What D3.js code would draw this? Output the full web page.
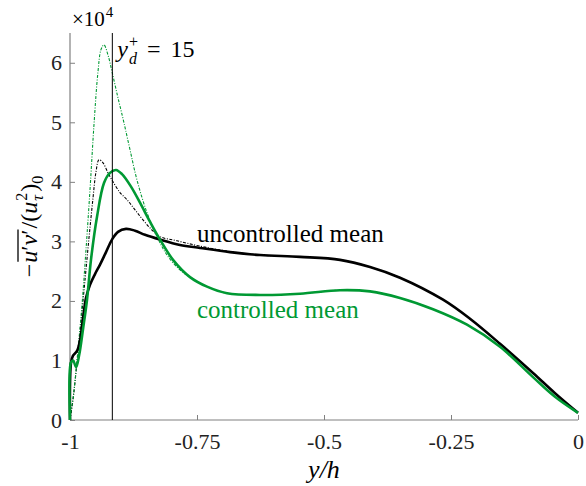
<!DOCTYPE html>
<html>
<head>
<meta charset="utf-8">
<script src="https://cdn.jsdelivr.net/npm/d3@7"></script>
<style>
  body { margin: 0; background: #fff; }
</style>
</head>
<body>
<div id="chart"></div>
<script>
// y/h positions and -u'v'/(u_tau^2)_0 values (x 1e4)
const uncMeanX = [-1, -0.998, -0.9941, -0.9862, -0.9803, -0.9744, -0.9685, -0.9606, -0.9508, -0.9409, -0.9291, -0.9173, -0.9055, -0.8898, -0.872, -0.8524, -0.8228, -0.7835, -0.7441, -0.685, -0.626, -0.5472, -0.4685, -0.4094, -0.3504, -0.2657, -0.2126, -0.1535, -0.0886, -0.0453, 0];
const uncMeanY = [0, 0.96, 1.08, 1.16, 1.34, 1.71, 2.05, 2.27, 2.45, 2.61, 2.82, 3.03, 3.16, 3.21, 3.18, 3.11, 3.03, 2.94, 2.89, 2.82, 2.77, 2.74, 2.69, 2.57, 2.39, 2.02, 1.70, 1.28, 0.79, 0.45, 0.12];

const ctrlMeanX = [-1, -0.998, -0.994, -0.988, -0.982, -0.974, -0.9665, -0.9587, -0.9469, -0.9331, -0.9213, -0.9094, -0.8976, -0.8799, -0.8622, -0.8425, -0.8228, -0.7972, -0.7638, -0.7303, -0.6909, -0.626, -0.5472, -0.4685, -0.4094, -0.3504, -0.2854, -0.2185, -0.1535, -0.0886, -0.0453, 0];
const ctrlMeanY = [0, 0.97, 1.0, 0.89, 1.09, 1.55, 2.02, 2.69, 3.41, 3.98, 4.15, 4.20, 4.13, 3.92, 3.65, 3.33, 3.03, 2.69, 2.40, 2.24, 2.13, 2.10, 2.12, 2.18, 2.16, 2.05, 1.86, 1.60, 1.23, 0.72, 0.39, 0.12];

// near-wall peak profiles (dash-dot)
const uncPeakX = [-1, -0.9941, -0.9862, -0.9783, -0.9705, -0.9626, -0.9547, -0.9488, -0.9429, -0.935, -0.9252, -0.9173, -0.9016, -0.8878, -0.872, -0.8563, -0.8386, -0.8228, -0.7894, -0.7441, -0.685, -0.626, -0.5472, -0.4685, -0.4094, -0.3504, -0.2657, -0.2126, -0.1535, -0.0886, -0.0453, 0];
const uncPeakY = [0, 0.34, 0.97, 1.65, 2.35, 3.06, 3.73, 4.17, 4.37, 4.32, 4.15, 4.03, 3.82, 3.70, 3.53, 3.36, 3.19, 3.08, 3.01, 2.92, 2.83, 2.77, 2.74, 2.69, 2.57, 2.39, 2.02, 1.70, 1.28, 0.79, 0.45, 0.12];

const ctrlPeakX = [-1, -0.9921, -0.9843, -0.9764, -0.9685, -0.9606, -0.9528, -0.9449, -0.939, -0.9331, -0.9252, -0.9173, -0.9055, -0.8937, -0.8819, -0.8681, -0.8484, -0.8287, -0.809, -0.7835, -0.7638, -0.7303, -0.6909, -0.626, -0.5472, -0.4685, -0.4094, -0.3504, -0.2854, -0.2185, -0.1535, -0.0886, -0.0453, 0];
const ctrlPeakY = [0, 0.50, 1.18, 1.93, 2.86, 3.87, 4.96, 5.85, 6.22, 6.30, 6.13, 5.85, 5.41, 4.99, 4.54, 4.03, 3.48, 3.08, 2.77, 2.52, 2.40, 2.24, 2.13, 2.10, 2.12, 2.18, 2.16, 2.05, 1.86, 1.60, 1.23, 0.72, 0.39, 0.12];

const xTicks = [-1, -0.75, -0.5, -0.25, 0];
const xTickLabels = ["-1", "-0.75", "-0.5", "-0.25", "0"];
const yTicks = [0, 1, 2, 3, 4, 5, 6];
const yPlus = 15, reTau = 180;

const green = "#009933";
const font = "'Liberation Serif', 'DejaVu Serif', serif";
const width = 586, height = 486;
const margin = {top: 33, right: 8, bottom: 66, left: 70};

const svg = d3.select("#chart").append("svg")
    .attr("width", width)
    .attr("height", height)
    .attr("font-family", font);

const x = d3.scaleLinear().domain([-1, 0]).range([margin.left, width - margin.right]);
const y = d3.scaleLinear().domain([0, 6.5]).range([height - margin.bottom, margin.top]);

// axes
const axisColor = "#808080";
const xAxis = svg.append("g")
    .attr("transform", `translate(0,${y(0)})`)
    .call(d3.axisBottom(x).tickValues(xTicks).tickSize(-5).tickPadding(13)
        .tickFormat((d, i) => xTickLabels[i]));
const yAxis = svg.append("g")
    .attr("transform", `translate(${x(-1)},0)`)
    .call(d3.axisLeft(y).tickValues(yTicks).tickSize(-5).tickPadding(8)
        .tickFormat(d3.format("d")));

[xAxis, yAxis].forEach(a => {
    a.attr("font-family", font).attr("font-size", 22);
    a.select(".domain").attr("stroke", axisColor).attr("stroke-width", 1.2);
    a.selectAll(".tick line").attr("stroke", axisColor);
    a.selectAll("text").attr("fill", "#222");
});
xAxis.select(".domain").attr("d", `M${x(-1)},0H${x(0)}`);
yAxis.select(".domain").attr("d", `M0,${y(0)}V${y(6.5)}`);

// curves
const line = d3.line()
    .x(d => x(d[0]))
    .y(d => y(d[1]))
    .curve(d3.curveCatmullRom.alpha(0.5));

function zip(a, b) { return a.map((v, i) => [v, b[i]]); }

svg.append("path").datum(zip(uncPeakX, uncPeakY))
    .attr("d", line).attr("fill", "none").attr("stroke", "black")
    .attr("stroke-width", 1.1).attr("stroke-dasharray", "3,1.5,1,1.5");
svg.append("path").datum(zip(ctrlPeakX, ctrlPeakY))
    .attr("d", line).attr("fill", "none").attr("stroke", green)
    .attr("stroke-width", 1.1).attr("stroke-dasharray", "3,1.5,1,1.5");
svg.append("path").datum(zip(uncMeanX, uncMeanY))
    .attr("d", line).attr("fill", "none").attr("stroke", "black")
    .attr("stroke-width", 2.6);
svg.append("path").datum(zip(ctrlMeanX, ctrlMeanY))
    .attr("d", line).attr("fill", "none").attr("stroke", green)
    .attr("stroke-width", 2.6);

// y_d^+ line
const yd = -1 + yPlus / reTau;
svg.append("line")
    .attr("x1", x(yd)).attr("x2", x(yd))
    .attr("y1", y(0)).attr("y2", y(6.5))
    .attr("stroke", "black").attr("stroke-width", 1);

// write a sequence of pieces left to right: [text, size, italic, dy, stackWithPrev, gapBefore]
function writeMath(g, pieces, x0, y0) {
    let cx = x0, lastX = x0;
    pieces.forEach(p => {
        const [str, size, italic, dy, stack, gap] = p;
        const px = stack ? lastX : cx + (gap || 0);
        const t = g.append("text")
            .attr("x", px).attr("y", y0 + dy)
            .attr("font-size", size)
            .attr("font-style", italic ? "italic" : "normal")
            .text(str);
        const w = t.node().getComputedTextLength();
        if (stack) {
            cx = Math.max(cx, px + w);
        } else {
            lastX = px;
            cx = px + w;
        }
        p.x = px; p.w = w;
    });
    return cx;
}

// y_d^+ = 15
const ydG = svg.append("g");
writeMath(ydG, [
    ["y", 24, true, 0, false, 0],
    ["+", 16, false, -10, false, 1],
    ["d", 16, true, 7, true, 0],
    ["=", 24, false, 0, false, 9],
    ["15", 24, false, 0, false, 10]
], x(yd) + 5, 57);

// exponent
const expG = svg.append("g");
writeMath(expG, [
    ["×10", 21, false, 0, false, 0],
    ["4", 15, false, -9, false, 1]
], 72, 26);

// series labels
svg.append("text").attr("x", 197).attr("y", 242)
    .attr("font-size", 25).attr("fill", "black").text("uncontrolled mean");
svg.append("text").attr("x", 197).attr("y", 318)
    .attr("font-size", 25).attr("fill", green).text("controlled mean");

// x label
svg.append("text")
    .attr("x", x(-0.5)).attr("y", 478)
    .attr("text-anchor", "middle").attr("font-size", 26)
    .attr("font-style", "italic").text("y/h");

// y label (rotated)
const yLabG = svg.append("g");
const yPieces = [
    ["−", 24, false, 0, false, 0],
    ["u", 24, true, 0, false, 1],
    ["′", 24, false, 0, false, 0],
    ["v", 24, true, 0, false, 0],
    ["′", 24, false, 0, false, 0],
    ["/(", 24, false, 0, false, 1],
    ["u", 24, true, 0, false, 0],
    ["2", 16, false, -10, false, 1],
    ["τ", 16, true, 6, true, 0],
    [")", 24, false, 0, false, 1],
    ["0", 16, false, 6, false, 0]
];
const totalW = writeMath(yLabG, yPieces, 0, 0);
yLabG.append("line")
    .attr("x1", yPieces[1].x + 1).attr("x2", yPieces[4].x + yPieces[4].w)
    .attr("y1", -19).attr("y2", -19)
    .attr("stroke", "black").attr("stroke-width", 1.3);
yLabG.attr("transform", `translate(37,${(y(0) + y(6.5)) / 2 + totalW / 2}) rotate(-90)`);
</script>
</body>
</html>
